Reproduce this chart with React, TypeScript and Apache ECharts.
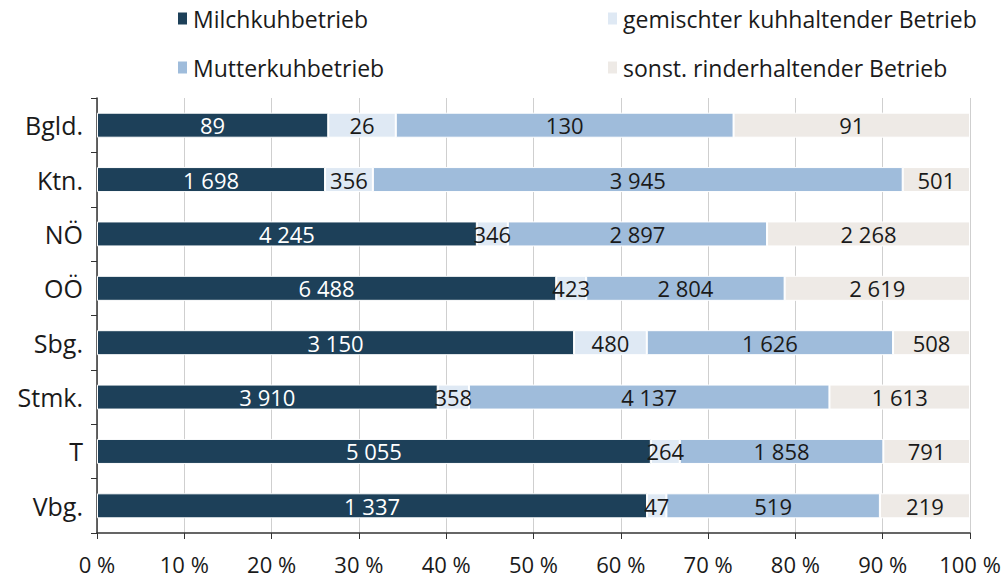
import React, { useEffect, useRef } from "react";
import * as echarts from "echarts";

const categories = ["Bgld.", "Ktn.", "NÖ", "OÖ", "Sbg.", "Stmk.", "T", "Vbg."];
const seriesNames = [
  "Milchkuhbetrieb",
  "gemischter kuhhaltender Betrieb",
  "Mutterkuhbetrieb",
  "sonst. rinderhaltender Betrieb",
];
const milchkuh = [89, 1698, 4245, 6488, 3150, 3910, 5055, 1337];
const gemischt = [26, 356, 346, 423, 480, 358, 264, 47];
const mutterkuh = [130, 3945, 2897, 2804, 1626, 4137, 1858, 519];
const sonstige = [91, 501, 2268, 2619, 508, 1613, 791, 219];
const xTicks = [0, 10, 20, 30, 40, 50, 60, 70, 80, 90, 100];

const colors = ["#1d4059", "#dfe9f4", "#9fbcdb", "#eeeae6"];
const labelColors = ["#ffffff", "#1a1a1a", "#1a1a1a", "#1a1a1a"];
const FONT = "'Open Sans', Lato, sans-serif";

const fmt = (n: number) => String(n).replace(/\B(?=(\d{3})+(?!\d))/g, " ");

export default function App() {
  const ref = useRef<HTMLDivElement>(null);
  useEffect(() => {
    if (!ref.current) return;
    const chart = echarts.init(ref.current, undefined, { renderer: "svg" });
    const raw = [milchkuh, gemischt, mutterkuh, sonstige];
    const totals = categories.map((_, i) => raw.reduce((s, arr) => s + arr[i], 0));
    const series = raw.map((arr, si) => ({
      name: seriesNames[si],
      type: "bar",
      stack: "total",
      barWidth: 25,
      itemStyle: { color: colors[si], borderColor: "#ffffff", borderWidth: 1 },
      label: {
        show: true,
        position: "inside",
        color: labelColors[si],
        fontSize: 22,
        fontFamily: FONT,
        formatter: (p: any) => fmt(arr[p.dataIndex]),
      },
      data: arr.map((v, i) => (v / totals[i]) * 100),
    }));
    const legendBase = {
      orient: "vertical",
      top: 7,
      padding: 0,
      itemWidth: 11,
      itemHeight: 14,
      itemGap: 26,
      icon: "rect",
      textStyle: { fontSize: 23, color: "#1a1a1a", fontFamily: FONT },
    };
    chart.setOption({
      animation: false,
      color: colors,
      textStyle: { fontFamily: FONT },
      legend: [
        { ...legendBase, data: [seriesNames[0], seriesNames[2]], left: 176 },
        { ...legendBase, data: [seriesNames[1], seriesNames[3]], left: 606 },
      ],
      grid: { left: 97, right: 36, top: 98, bottom: 48, containLabel: false },
      xAxis: {
        type: "value",
        min: 0,
        max: 100,
        interval: 10,
        axisLine: { show: true, lineStyle: { color: "#333", width: 1.5 } },
        axisTick: { show: true, length: 6, lineStyle: { color: "#333" } },
        splitLine: { show: true, lineStyle: { color: "#cfcfcf", width: 1 } },
        axisLabel: {
          fontSize: 22,
          color: "#1a1a1a",
          margin: 20,
          fontFamily: FONT,
          formatter: (v: number) => (xTicks.includes(v) ? `${v} %` : ""),
        },
      },
      yAxis: {
        type: "category",
        inverse: true,
        data: categories,
        axisLine: { show: true, lineStyle: { color: "#333", width: 1.5 } },
        axisTick: { show: true, length: 6, lineStyle: { color: "#333" } },
        axisLabel: { fontSize: 25, color: "#1a1a1a", margin: 14, fontFamily: FONT },
      },
      series,
    });
    return () => chart.dispose();
  }, []);
  return <div ref={ref} style={{ width: 1006, height: 581, position: "absolute", left: 0, top: 0 }} />;
}
